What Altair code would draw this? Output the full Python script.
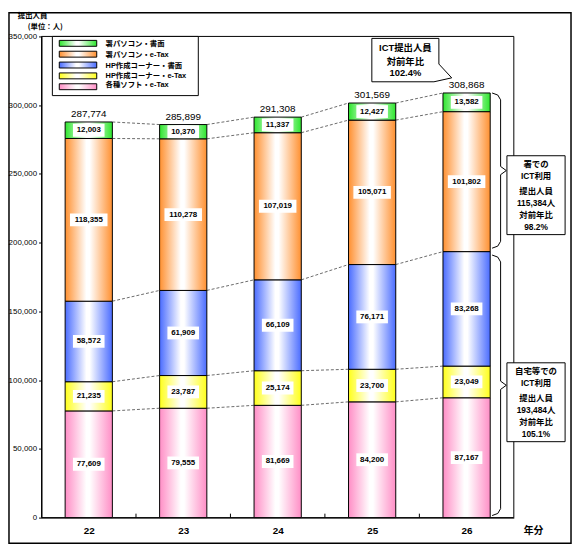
import json
import altair as alt
import pandas as pd

# ---------------- data ----------------
years = ["22", "23", "24", "25", "26"]
soft_etax = [77609, 79555, 81669, 84200, 87167]        # 各種ソフト・e-Tax
hp_etax = [21235, 23787, 25174, 23700, 23049]          # HP作成コーナー・e-Tax
hp_paper = [58572, 61909, 66109, 76171, 83268]         # HP作成コーナー・書面
office_etax = [118355, 110278, 107019, 105071, 101802]  # 署パソコン・e-Tax
office_paper = [12003, 10370, 11337, 12427, 13582]     # 署パソコン・書面
totals = [287774, 285899, 291308, 301569, 308868]
y_ticks = [0, 50000, 100000, 150000, 200000, 250000, 300000, 350000]

series = ["各種ソフト・e-Tax", "HP作成コーナー・e-Tax", "HP作成コーナー・書面",
          "署パソコン・e-Tax", "署パソコン・書面"]          # bottom -> top
values = [soft_etax, hp_etax, hp_paper, office_etax, office_paper]
colors = ["#ff8ec6", "#ffff1a", "#4a6cff", "#ff9030", "#2ee62e"]

office_note = ["署での", "ICT利用", "提出人員", "115,384人", "対前年比", "98.2%"]
home_note = ["自宅等での", "ICT利用", "提出人員", "193,484人", "対前年比", "105.1%"]
ict_note = ["ICT提出人員", "対前年比", "102.4%"]

# ---------------- tables ----------------
rows = []
for i, yr in enumerate(years):
    lo = 0
    for s, vals in zip(series, values):
        hi = lo + vals[i]
        rows.append({"year": yr, "xi": i, "series": s, "value": vals[i],
                     "lo": lo, "hi": hi, "label": f"{vals[i]:,}"})
        lo = hi
seg = pd.DataFrame(rows)

HALF = 0.25
conn = []
for i in range(len(years) - 1):
    a = b = 0
    for vals in values:
        a += vals[i]
        b += vals[i + 1]
        conn.append({"xa": i + HALF, "xb": i + 1 - HALF, "ya": a, "yb": b})
conn = pd.DataFrame(conn)

tot = pd.DataFrame({"xi": list(range(len(years))), "total": totals,
                    "label": [f"{t:,}" for t in totals]})

last = len(years) - 1
home_sum = soft_etax[last] + hp_etax[last] + hp_paper[last]
top_sum = totals[last]


def brace(a, b, grp):
    m = (a + b) / 2
    pts = [(last + 0.27, a), (last + 0.33, a - 1500), (last + 0.36, a - 5000),
           (last + 0.36, m + 3000), (last + 0.42, m), (last + 0.36, m - 3000),
           (last + 0.36, b + 5000), (last + 0.33, b + 1500), (last + 0.27, b)]
    return [{"bx": x, "by": y, "k": k, "grp": grp} for k, (x, y) in enumerate(pts)]


braces = pd.DataFrame(brace(top_sum, home_sum + 2500, "office") +
                      brace(home_sum - 2500, 1500, "home"))
mid_ticks = pd.DataFrame({"tx": [i + 0.5 for i in range(len(years) - 1)]})
one = pd.DataFrame({"k": [0]})

# ---------------- styles ----------------
W, H = 479, 488
NUM = "Liberation Sans, Noto Sans CJK JP"
JP = "Noto Sans CJK JP"

xs = alt.Scale(domain=[-0.5, len(years) - 0.5], nice=False, zero=False)
ys = alt.Scale(domain=[0, 350000], nice=False)
xaxis = alt.Axis(values=list(range(len(years))), labelExpr=f"{json.dumps(years)}[datum.value]",
                 title=None, ticks=False, tickSize=0, labelPadding=8, labelFontSize=10,
                 labelFontWeight="bold", labelFont=NUM, labelColor="black",
                 domainColor="black", grid=False)
yaxis = alt.Axis(values=y_ticks, labelExpr="format(datum.value, ',')", title=None,
                 tickSize=3, labelPadding=2, labelFontSize=8, labelFont=NUM,
                 labelColor="black", domainColor="black", tickColor="black", grid=False)


def grad(c):
    return alt.Gradient(gradient="linear", x1=0, x2=1, y1=0, y2=0, stops=[
        alt.GradientStop(color=c, offset=0),
        alt.GradientStop(color="#ffffff", offset=0.45),
        alt.GradientStop(color="#ffffff", offset=0.52),
        alt.GradientStop(color=c, offset=1)])


def txt(text, x, y, size=8, bold=True, align="center", font=JP):
    return alt.Chart(one).mark_text(
        text=text, fontSize=size, fontWeight="bold" if bold else "normal",
        align=align, baseline="middle", font=font, color="black"
    ).encode(x=alt.value(x), y=alt.value(y))


def rect(x, x2, y, y2, fill="white", sw=1.0, fo=1.0):
    return alt.Chart(one).mark_rect(fill=fill, fillOpacity=fo, stroke="black",
                                    strokeWidth=sw).encode(
        x=alt.value(x), x2=alt.value(x2), y=alt.value(y), y2=alt.value(y2))


X = lambda f: alt.X(f, scale=xs, axis=xaxis)
Y = lambda f: alt.Y(f, scale=ys, axis=yaxis)

layers = []
# outer frame and plot frame
layers.append(rect(-33, 537, -24, 514, fill="white", sw=1.5, fo=0))
layers.append(rect(0, W, 0, H, fill="white", sw=1, fo=0))

# dashed connectors
layers.append(alt.Chart(conn).mark_rule(strokeDash=[3, 2], color="#444444", strokeWidth=0.8)
              .encode(x=X("xa:Q"), x2="xb:Q", y=Y("ya:Q"), y2="yb:Q"))

# stacked bars
for s, c in zip(series, colors):
    layers.append(
        alt.Chart(seg).transform_filter(alt.datum.series == s)
        .transform_calculate(x0=f"datum.xi - {HALF}", x1=f"datum.xi + {HALF}")
        .mark_rect(fill=grad(c), stroke="black", strokeWidth=1)
        .encode(x=X("x0:Q"), x2="x1:Q", y=Y("lo:Q"), y2="hi:Q"))

# value label backgrounds + values
seg_mid = alt.Chart(seg).transform_calculate(mid="(datum.lo + datum.hi) / 2")
layers.append(seg_mid.transform_filter(alt.datum.series == series[3])
              .mark_point(shape="M-19,-6.5L19,-6.5L19,6.5L-19,6.5Z", size=4, filled=True,
                          fill="white", opacity=1, strokeWidth=0)
              .encode(x=X("xi:Q"), y=Y("mid:Q")))
layers.append(seg_mid.transform_filter(alt.datum.series != series[3])
              .mark_point(shape="M-16,-6.5L16,-6.5L16,6.5L-16,6.5Z", size=4, filled=True,
                          fill="white", opacity=1, strokeWidth=0)
              .encode(x=X("xi:Q"), y=Y("mid:Q")))
layers.append(seg_mid.mark_text(fontSize=8, fontWeight="bold", font=NUM, color="black")
              .encode(x=X("xi:Q"), y=Y("mid:Q"), text="label:N"))

# totals
layers.append(alt.Chart(tot).mark_text(dy=-3, baseline="bottom", fontSize=10, font=NUM,
                                        color="black")
              .encode(x=X("xi:Q"), y=Y("total:Q"), text="label:N"))

# small ticks between categories
layers.append(alt.Chart(mid_ticks).mark_rule(color="black")
              .encode(x=X("tx:Q"), y=alt.value(H), y2=alt.value(H - 4)))

# braces
layers.append(alt.Chart(braces).mark_line(color="black", strokeWidth=1)
              .encode(x=X("bx:Q"), y=Y("by:Q"), order="k:Q", detail="grp:N"))

# annotation boxes on the right
layers.append(rect(472, 531, 121, 201))
for t, yy in zip(office_note, [129, 142, 157, 169, 181, 193]):
    layers.append(txt(t, 501.5, yy, size=8.5, font=NUM))
layers.append(rect(472, 531, 331, 411))
for t, yy in zip(home_note, [339, 352, 367, 379, 391, 403]):
    layers.append(txt(t, 501.5, yy, size=8.5, font=NUM))

# ICT callout bubble
layers.append(alt.Chart(one).mark_point(
    shape="M0,0L68,0L68,26L81,40L63,44L0,44Z", size=4, filled=True, fill="white",
    stroke="black", strokeWidth=1, opacity=1).encode(x=alt.value(335), y=alt.value(2)))
for t, yy in zip(ict_note, [12, 25.5, 37.5]):
    layers.append(txt(t, 369, yy, size=9.5, font=NUM))

# legend
layers.append(rect(11, 159, 0, 60))
sw_y = [7, 18, 29, 40, 51]
tx_y = [8, 18.5, 30, 40.5, 49.5]
for k, (s, c) in enumerate(zip(series[::-1], colors[::-1])):
    layers.append(alt.Chart(one).mark_rect(fill=grad(c), stroke="black", strokeWidth=1)
                  .encode(x=alt.value(18), x2=alt.value(56),
                          y=alt.value(sw_y[k] - 3), y2=alt.value(sw_y[k] + 3)))
    layers.append(txt(s, 65, tx_y[k], size=7.5, align="left", font=NUM))

# titles
layers.append(txt("提出人員", -24, -21, size=7.5, align="left"))
layers.append(txt("(単位：人)", -14, -10, size=7.5, align="left"))
layers.append(txt("年分", 499, 502, size=10, align="center"))

chart = alt.layer(*layers).properties(
    width=W, height=H,
    autosize=alt.AutoSizeParams(type="none"),
    padding={"left": 34, "top": 25, "right": 59, "bottom": 28},
).configure_view(stroke="transparent")

chart.save("out.html", embed_options={"renderer": "svg", "actions": False})
